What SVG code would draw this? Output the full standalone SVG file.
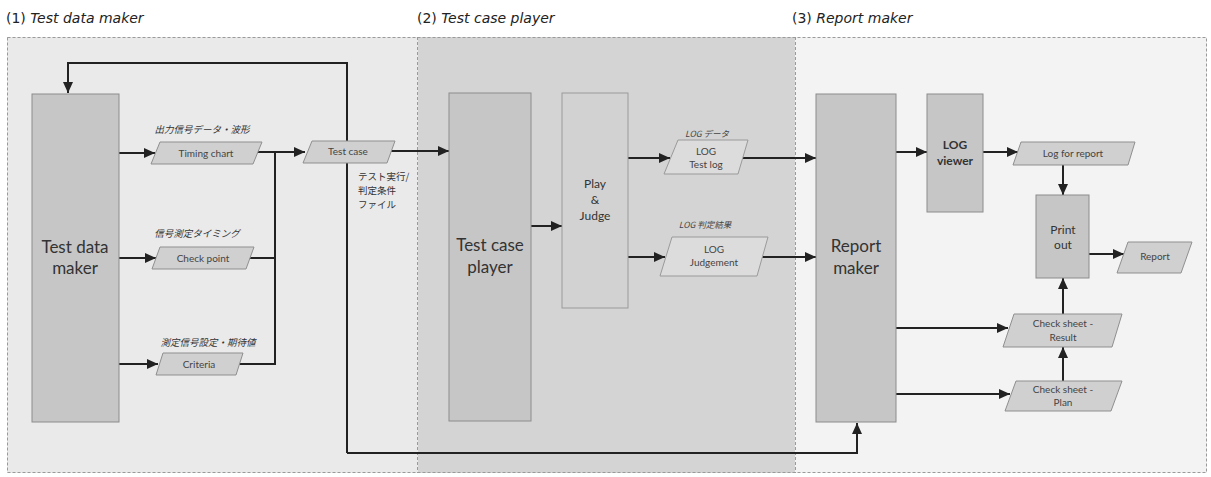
<svg xmlns="http://www.w3.org/2000/svg" width="1211" height="477" viewBox="0 0 1211 477">
  <defs>
    <marker id="arrow" markerUnits="userSpaceOnUse" markerWidth="12" markerHeight="10" refX="11" refY="5" orient="auto">
      <path d="M0,0 L11,5 L0,10 Z" fill="#222"/>
    </marker>
    <style>
      .heading { font-family: "DejaVu Sans", Verdana, sans-serif; font-size: 14px; fill: #222; }
      .panel-edge { fill: none; stroke: #9a9a9a; stroke-width: 1; stroke-dasharray: 3 2; }
      .box { fill: #c6c6c6; stroke: #8c8c8c; stroke-width: 1; }
      .box-light { fill: #d2d2d2; stroke: #9a9a9a; stroke-width: 1; }
      .data { fill: #d0d0d0; stroke: #8f8f8f; stroke-width: 1; }
      .data-light { fill: #dcdcdc; stroke: #9a9a9a; stroke-width: 1; }
      .big { font-family: Lato, "Liberation Sans", sans-serif; font-size: 17px; fill: #333; text-anchor: middle; }
      .mid { font-family: Lato, "Liberation Sans", sans-serif; font-size: 12px; fill: #333; text-anchor: middle; }
      .bold { font-weight: bold; }
      .small { font-family: Lato, "Liberation Sans", sans-serif; font-size: 10px; fill: #444; text-anchor: middle; }
      .jp { font-family: "Noto Sans CJK JP", sans-serif; font-size: 9.5px; fill: #333; }
      .jp-it { font-family: "Noto Sans CJK JP", sans-serif; font-size: 9.5px; font-style: italic; fill: #333; text-anchor: middle; }
      .jp-sm { font-family: "Noto Sans CJK JP", sans-serif; font-size: 8.5px; font-style: italic; fill: #444; text-anchor: middle; }
      .conn { fill: none; stroke: #222; stroke-width: 2; }
      .conn-arrow { fill: none; stroke: #222; stroke-width: 2; marker-end: url(#arrow); }
    </style>
  </defs>

  <rect width="1211" height="477" fill="#ffffff"/>

  <!-- Section panels -->
  <g id="panels">
    <rect x="7" y="37" width="411" height="436" fill="#eaeaea"/>
    <rect x="418" y="37" width="377" height="436" fill="#d4d4d4"/>
    <rect x="795" y="37" width="412" height="436" fill="#f3f3f3"/>
    <rect class="panel-edge" x="7.5" y="37.5" width="1199" height="435"/>
    <line class="panel-edge" x1="417.5" y1="37" x2="417.5" y2="473"/>
    <line class="panel-edge" x1="795.5" y1="37" x2="795.5" y2="473"/>
  </g>

  <!-- Section headings -->
  <g id="headings">
    <text class="heading" x="6" y="23">(1) <tspan font-style="italic">Test data maker</tspan></text>
    <text class="heading" x="417" y="23">(2) <tspan font-style="italic">Test case player</tspan></text>
    <text class="heading" x="792" y="23">(3) <tspan font-style="italic">Report maker</tspan></text>
  </g>

  <!-- Connectors -->
  <g id="connectors">
    <path class="conn-arrow" d="M347,453 V63 H68 V93"/>
    <path class="conn-arrow" d="M347,453 H857 V423"/>
    <path class="conn-arrow" d="M119,153 H155"/>
    <path class="conn-arrow" d="M119,258 H156"/>
    <path class="conn-arrow" d="M119,364 H158"/>
    <path class="conn-arrow" d="M256,152 H305"/>
    <path class="conn" d="M249,258 H275"/>
    <path class="conn" d="M239,364 H275 V152"/>
    <path class="conn-arrow" d="M391,151 H449"/>
    <path class="conn-arrow" d="M531,226 H562"/>
    <path class="conn-arrow" d="M628,158 H670"/>
    <path class="conn-arrow" d="M628,257 H665"/>
    <path class="conn-arrow" d="M743,158 H816"/>
    <path class="conn-arrow" d="M762,257 H816"/>
    <path class="conn-arrow" d="M896,152 H927"/>
    <path class="conn-arrow" d="M983,152 H1018"/>
    <path class="conn-arrow" d="M1063,165 V195"/>
    <path class="conn-arrow" d="M1089,254 H1124"/>
    <path class="conn-arrow" d="M896,328 H1008"/>
    <path class="conn-arrow" d="M896,394 H1010"/>
    <path class="conn-arrow" d="M1063,314 V278"/>
    <path class="conn-arrow" d="M1063,381 V347"/>
  </g>

  <!-- (1) Test data maker -->
  <g id="test-data-maker">
    <rect class="box" x="32" y="94" width="87" height="328"/>
    <text class="big" x="75" y="253">Test data</text>
    <text class="big" x="75" y="274">maker</text>
  </g>
  <g id="timing-chart">
    <text class="jp-it" x="202" y="133">出力信号データ・波形</text>
    <polygon class="data" points="160,142 262,142 253,164 151,164"/>
    <text class="small" x="206" y="157">Timing chart</text>
  </g>
  <g id="check-point">
    <text class="jp-it" x="197" y="237">信号測定タイミング</text>
    <polygon class="data" points="160,247 254,247 246,269 152,269"/>
    <text class="small" x="203" y="262">Check point</text>
  </g>
  <g id="criteria">
    <text class="jp-it" x="208" y="346">測定信号設定・期待値</text>
    <polygon class="data" points="163,353 243,353 236,375 156,375"/>
    <text class="small" x="199" y="368">Criteria</text>
  </g>
  <g id="test-case">
    <polygon class="data" points="312,141 395,141 387,163 303,163"/>
    <text class="small" x="348" y="155">Test case</text>
    <text class="jp" x="358" y="180">テスト実行/</text>
    <text class="jp" x="358" y="194">判定条件</text>
    <text class="jp" x="358" y="208">ファイル</text>
  </g>

  <!-- (2) Test case player -->
  <g id="test-case-player">
    <rect class="box" x="449" y="93" width="82" height="328"/>
    <text class="big" x="490" y="251">Test case</text>
    <text class="big" x="490" y="273">player</text>
  </g>
  <g id="play-judge">
    <rect class="box-light" x="562" y="93" width="66" height="215"/>
    <text class="mid" x="595" y="188">Play</text>
    <text class="mid" x="595" y="204">&amp;</text>
    <text class="mid" x="595" y="220">Judge</text>
  </g>
  <g id="log-test-log">
    <text class="jp-sm" x="707" y="137">LOG データ</text>
    <polygon class="data-light" points="678,140 748,140 738,174 664,174"/>
    <text class="small" x="706" y="155">LOG</text>
    <text class="small" x="706" y="168">Test log</text>
  </g>
  <g id="log-judgement">
    <text class="jp-sm" x="705" y="228">LOG 判定結果</text>
    <polygon class="data-light" points="672,237 768,237 757,276 660,276"/>
    <text class="small" x="714" y="253">LOG</text>
    <text class="small" x="714" y="266">Judgement</text>
  </g>

  <!-- (3) Report maker -->
  <g id="report-maker">
    <rect class="box" x="816" y="94" width="80" height="328"/>
    <text class="big" x="856" y="252">Report</text>
    <text class="big" x="856" y="274">maker</text>
  </g>
  <g id="log-viewer">
    <rect class="box" x="927" y="94" width="56" height="118"/>
    <text class="mid bold" x="955" y="149">LOG</text>
    <text class="mid bold" x="955" y="165">viewer</text>
  </g>
  <g id="log-for-report">
    <polygon class="data" points="1021,142 1135,142 1128,165 1013,165"/>
    <text class="small" x="1073" y="157">Log for report</text>
  </g>
  <g id="print-out">
    <rect class="box" x="1036" y="195" width="53" height="83"/>
    <text class="mid" x="1063" y="234">Print</text>
    <text class="mid" x="1063" y="249">out</text>
  </g>
  <g id="report">
    <polygon class="data" points="1128,242 1192,242 1181,273 1117,273"/>
    <text class="small" x="1155" y="260">Report</text>
  </g>
  <g id="check-sheet-result">
    <polygon class="data" points="1014,314 1122,314 1112,347 1003,347"/>
    <text class="small" x="1063" y="327">Check sheet -</text>
    <text class="small" x="1063" y="341">Result</text>
  </g>
  <g id="check-sheet-plan">
    <polygon class="data" points="1016,381 1122,381 1111,411 1005,411"/>
    <text class="small" x="1063" y="393">Check sheet -</text>
    <text class="small" x="1063" y="406">Plan</text>
  </g>
</svg>
